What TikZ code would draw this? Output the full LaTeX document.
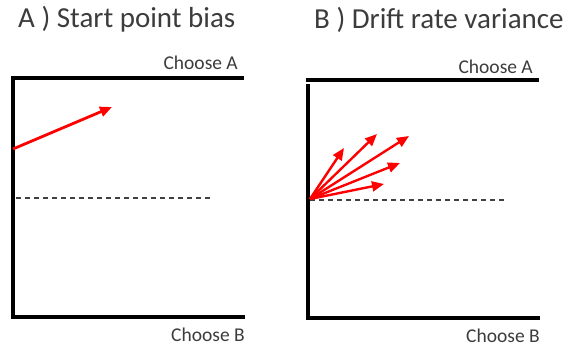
\documentclass[tikz,border=0pt]{standalone}
\usepackage{fontspec}
\setmainfont{Carlito}
\usetikzlibrary{arrows.meta}
\definecolor{txt}{RGB}{60,60,60}
\tikzset{
  axis/.style={line width=3.8pt, line cap=butt},
  mid/.style={line width=1.3pt, dash pattern=on 5pt off 4pt, draw=black!75},
  drift/.style={line width=2.8pt, red, -{Triangle[length=12pt,width=10pt]}},
  title/.style={font=\fontsize{29}{34}\selectfont, text=txt, inner sep=0pt},
  lab/.style={font=\fontsize{19.5}{23}\selectfont, text=txt, inner sep=0pt},
}
\begin{document}
\begin{tikzpicture}[x=1pt,y=-1pt]
\useasboundingbox (0,0) rectangle (574,348);
% titles
\node[title, anchor=west] (ta) at (18,19) {A ) Start point bias};
\node[title, anchor=west] (tb) at (314,20) {B ) Drift rate variance};
% panel A
\coordinate (a1) at (13,78);
\coordinate (a2) at (244,78);
\coordinate (a3) at (13,317);
\coordinate (a4) at (245,317);
\draw[axis] (a2) -- (a1) -- (a3) -- (a4);
\node[lab, anchor=east] (ca) at (238,63) {Choose A};
\node[lab, anchor=east] (cb) at (245,335) {Choose B};
\coordinate (ad1) at (16,198);
\coordinate (ad2) at (212,198);
\draw[mid] (ad1) -- (ad2);
\coordinate (as) at (13,149);
\coordinate (ae) at (112,107);
\draw[drift] (as) -- (ae);
% panel B
\coordinate (b1) at (306,80);
\coordinate (b2) at (539,80);
\coordinate (b3) at (308,84);
\coordinate (b4) at (308,318);
\coordinate (b5) at (540,318);
\draw[axis] (b1) -- (b2);
\draw[axis] (b3) -- (b4) -- (b5);
\node[lab, anchor=east] (cc) at (533,67) {Choose A};
\node[lab, anchor=east] (cd) at (540,336) {Choose B};
\coordinate (bd1) at (310,200);
\coordinate (bd2) at (505,200);
\draw[mid] (bd1) -- (bd2);
\coordinate (o) at (310,199);
\coordinate (e1) at (344,148);
\coordinate (e2) at (377,134);
\coordinate (e3) at (409,136);
\coordinate (e4) at (400,163);
\coordinate (e5) at (384,184);
\foreach \e in {e1,e2,e3,e4,e5} \draw[drift, line width=2.4pt] (o) -- (\e);
\end{tikzpicture}
\end{document}
